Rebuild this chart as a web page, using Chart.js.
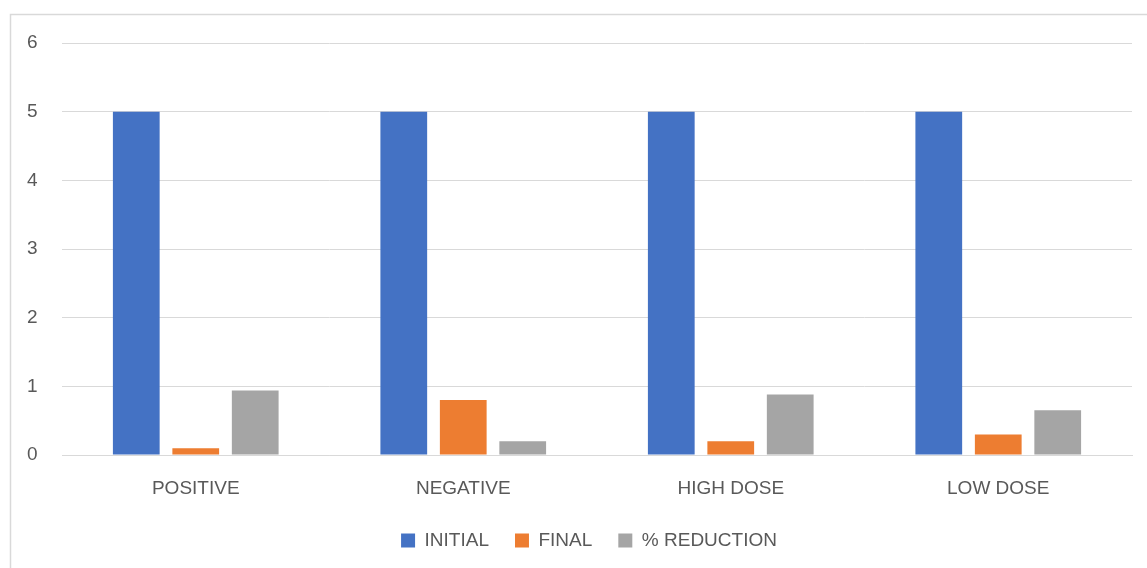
<!DOCTYPE html>
<html>
<head>
<meta charset="utf-8">
<script src="https://cdn.jsdelivr.net/npm/chart.js@4"></script>
<style>
  html, body { margin: 0; padding: 0; background: #ffffff; }
  #wrap { width: 1147px; height: 568px; position: relative; }
</style>
</head>
<body>
<div id="wrap"><canvas id="c" width="1147" height="568"></canvas></div>
<script>
// Groups along the x axis
const categories = ['POSITIVE', 'NEGATIVE', 'HIGH DOSE', 'LOW DOSE'];

// Series values per group
const initialValues   = [5, 5, 5, 5];
const finalValues     = [0.1, 0.8, 0.2, 0.3];
const reductionValues = [0.94, 0.2, 0.88, 0.65];

// Series names
const seriesNames = ['INITIAL', 'FINAL', '% REDUCTION'];

// Value axis ticks
const yTicks = [0, 1, 2, 3, 4, 5, 6];

const textColor = '#595959';
const gridColor = '#D9D9D9';
const fontFamily = '"Liberation Sans", Arial, sans-serif';

// Thin frame around the chart block
const framePlugin = {
  id: 'frame',
  beforeDraw(chart) {
    const ctx = chart.ctx;
    ctx.save();
    ctx.fillStyle = '#ffffff';
    ctx.fillRect(0, 0, chart.width, chart.height);
    ctx.strokeStyle = gridColor;
    ctx.lineWidth = 1.5;
    ctx.strokeRect(10.5, 14.5, chart.width + 20, chart.height + 20);
    ctx.restore();
  }
};

new Chart(document.getElementById('c'), {
  type: 'bar',
  data: {
    labels: categories,
    datasets: [
      { label: seriesNames[0], data: initialValues,   backgroundColor: '#4472C4' },
      { label: seriesNames[1], data: finalValues,     backgroundColor: '#ED7D31' },
      { label: seriesNames[2], data: reductionValues, backgroundColor: '#A5A5A5' }
    ]
  },
  options: {
    responsive: false,
    animation: false,
    devicePixelRatio: 1,
    layout: { padding: { left: 46, right: 15, top: 43, bottom: 8 } },
    datasets: {
      bar: { categoryPercentage: 0.667, barPercentage: 0.786 }
    },
    scales: {
      x: {
        grid: { display: false, drawTicks: false },
        border: { display: true, color: gridColor, width: 1 },
        ticks: { color: textColor, font: { family: fontFamily, size: 19 }, padding: 22, maxRotation: 0 },
        afterFit(scale) { scale.height = 50; }
      },
      y: {
        min: yTicks[0],
        max: yTicks[yTicks.length - 1],
        grid: { color: gridColor, lineWidth: 1, drawTicks: false },
        border: { display: false },
        ticks: {
          stepSize: yTicks[1] - yTicks[0],
          color: textColor,
          font: { family: fontFamily, size: 19 },
          mirror: true,
          padding: -35
        },
        afterFit(scale) { scale.width = 16; }
      }
    },
    plugins: {
      legend: {
        position: 'bottom',
        labels: {
          color: textColor,
          font: { family: fontFamily, size: 19 },
          boxWidth: 14,
          boxHeight: 14,
          padding: 26
        }
      },
      tooltip: { enabled: false }
    }
  },
  plugins: [framePlugin]
});
</script>
</body>
</html>
